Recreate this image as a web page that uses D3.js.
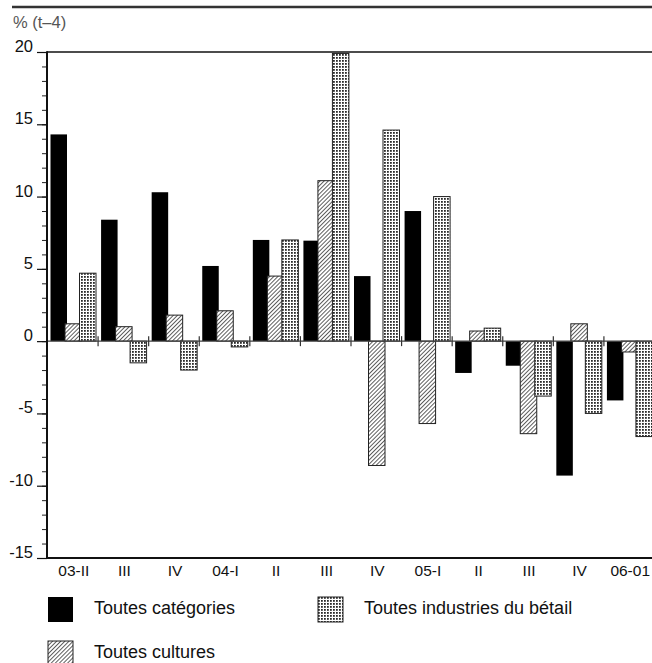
<!DOCTYPE html>
<html>
<head>
<meta charset="utf-8">
<script src="https://cdn.jsdelivr.net/npm/d3@7"></script>
<style>
  body { margin: 0; background: #fff; }
  text { font-family: "Liberation Sans", Arial, Helvetica, sans-serif; }
</style>
</head>
<body>
<div id="chart"></div>
<script>
// data
var categories = ["03-II", "III", "IV", "04-I", "II ", "III ", "IV ", "05-I", "II  ", "III  ", "IV  ", "06-01"];
var seriesNames = ["Toutes catégories", "Toutes cultures", "Toutes industries du bétail"];
var toutesCategories = [14.3, 8.4, 10.3, 5.2, 7.0, 6.95, 4.5, 9.0, -2.2, -1.7, -9.3, -4.1];
var toutesCultures = [1.2, 1.0, 1.8, 2.1, 4.5, 11.1, -8.6, -5.7, 0.7, -6.4, 1.2, -0.75];
var toutesBetail = [4.7, -1.5, -2.0, -0.4, 7.0, 19.9, 14.6, 10.0, 0.9, -3.8, -5.0, -6.6];
var yMajorTicks = [-15, -10, -5, 0, 5, 10, 15, 20];

var svgWidth = 652;
var svgHeight = 663;
var fontFamily = "'Liberation Sans', Arial, sans-serif";

var svg = d3.select("#chart").append("svg")
    .attr("width", svgWidth)
    .attr("height", svgHeight);

// patterns for the two grey series
var defs = svg.append("defs");
var hatch = defs.append("pattern")
    .attr("id", "hatch")
    .attr("patternUnits", "userSpaceOnUse")
    .attr("width", 2.9)
    .attr("height", 2.9)
    .attr("patternTransform", "rotate(45)");
hatch.append("rect").attr("width", 2.9).attr("height", 2.9).attr("fill", "#fff");
hatch.append("line")
    .attr("x1", 0).attr("y1", 0).attr("x2", 0).attr("y2", 2.9)
    .attr("stroke", "#2a2a2a")
    .attr("stroke-width", 1.5);

var dots = defs.append("pattern")
    .attr("id", "dots")
    .attr("patternUnits", "userSpaceOnUse")
    .attr("width", 3)
    .attr("height", 3);
dots.append("rect").attr("width", 3).attr("height", 3).attr("fill", "#fff");
dots.append("rect").attr("width", 1.8).attr("height", 1.8).attr("fill", "#2a2a2a");

var fills = ["#000", "url(#hatch)", "url(#dots)"];
var strokes = ["none", "#222", "#222"];

// scales
var x = d3.scaleBand().domain(categories).range([48.5, 655.5]);
var xs = d3.scalePoint().domain(seriesNames).range([0, 29]);
var barWidth = 16.5;
var y = d3.scaleLinear().domain([-15, 20]).range([558, 52]);

// top rule and title
svg.append("line")
    .attr("x1", 12).attr("x2", svgWidth)
    .attr("y1", 7).attr("y2", 7)
    .attr("stroke", "#333")
    .attr("stroke-width", 2.6);

svg.append("text")
    .attr("x", 13)
    .attr("y", 28)
    .attr("font-size", "16.5px")
    .attr("font-family", fontFamily)
    .attr("fill", "#555")
    .text("% (t\u20134)");

// frame lines top and bottom
svg.append("line")
    .attr("x1", 47).attr("x2", svgWidth)
    .attr("y1", y(20)).attr("y2", y(20))
    .attr("stroke", "#111").attr("stroke-width", 1.4);
svg.append("line")
    .attr("x1", 47).attr("x2", svgWidth)
    .attr("y1", y(-15)).attr("y2", y(-15))
    .attr("stroke", "#111").attr("stroke-width", 2);

// bars
var allSeries = [toutesCategories, toutesCultures, toutesBetail];
allSeries.forEach(function(values, si) {
    svg.append("g").selectAll("rect")
        .data(values)
        .enter()
        .append("rect")
        .attr("x", (d, i) => x(categories[i]) + 2 + xs(seriesNames[si]))
        .attr("y", d => y(Math.max(0, d)))
        .attr("width", barWidth)
        .attr("height", d => Math.abs(y(d) - y(0)))
        .attr("fill", fills[si])
        .attr("stroke", strokes[si])
        .attr("stroke-width", 1);
});

// zero line with small ticks between groups
svg.append("line")
    .attr("x1", 47).attr("x2", svgWidth)
    .attr("y1", y(0)).attr("y2", y(0))
    .attr("stroke", "#444").attr("stroke-width", 1.2);
svg.append("g").selectAll("line")
    .data(categories.slice(1))
    .enter()
    .append("line")
    .attr("x1", d => x(d) - 1).attr("x2", d => x(d) - 1)
    .attr("y1", y(0) - 5).attr("y2", y(0) + 5)
    .attr("stroke", "#333").attr("stroke-width", 1.2);

// y axis: minor ticks every unit, major ticks every 5
var minorAxis = d3.axisLeft(y).ticks(35).tickSize(5).tickFormat("");
svg.append("g")
    .attr("transform", "translate(47,0)")
    .call(minorAxis)
    .call(g => g.select(".domain").remove())
    .selectAll("line").attr("stroke", "#222");

var majorAxis = d3.axisLeft(y).tickValues(yMajorTicks).tickSize(10).tickPadding(4)
    .tickFormat(d => String(d));
var yAxis = svg.append("g")
    .attr("transform", "translate(47,0)")
    .call(majorAxis);
yAxis.select(".domain").remove();
yAxis.selectAll("line").attr("stroke", "#111").attr("stroke-width", 1.2);
yAxis.selectAll("text")
    .attr("dy", "-0.5")
    .attr("font-size", "16.5px")
    .attr("font-family", fontFamily)
    .attr("fill", "#111");

svg.append("line")
    .attr("x1", 47).attr("x2", 47)
    .attr("y1", y(20) - 0.7).attr("y2", y(-15) + 1)
    .attr("stroke", "#111").attr("stroke-width", 2);

// x axis labels
var xAxis = svg.append("g")
    .attr("transform", "translate(0," + y(-15) + ")")
    .call(d3.axisBottom(x).tickSize(0).tickPadding(7).tickFormat(d => d.trim()));
xAxis.select(".domain").remove();
xAxis.selectAll("text")
    .attr("font-size", "15.5px")
    .attr("font-family", fontFamily)
    .attr("fill", "#111");

// legend
var legendItems = [
    { name: seriesNames[0], fill: fills[0], stroke: strokes[0], x: 48, y: 597 },
    { name: seriesNames[2], fill: fills[2], stroke: strokes[2], x: 318, y: 597 },
    { name: seriesNames[1], fill: fills[1], stroke: strokes[1], x: 48, y: 641 }
];
var legend = svg.append("g").selectAll("g")
    .data(legendItems)
    .enter()
    .append("g")
    .attr("transform", d => "translate(" + d.x + "," + d.y + ")");
legend.append("rect")
    .attr("width", 25)
    .attr("height", 25)
    .attr("fill", d => d.fill)
    .attr("stroke", d => d.stroke);
legend.append("text")
    .attr("x", 46)
    .attr("y", 17)
    .attr("font-size", "18px")
    .attr("font-family", fontFamily)
    .attr("fill", "#111")
    .text(d => d.name);
</script>
</body>
</html>
